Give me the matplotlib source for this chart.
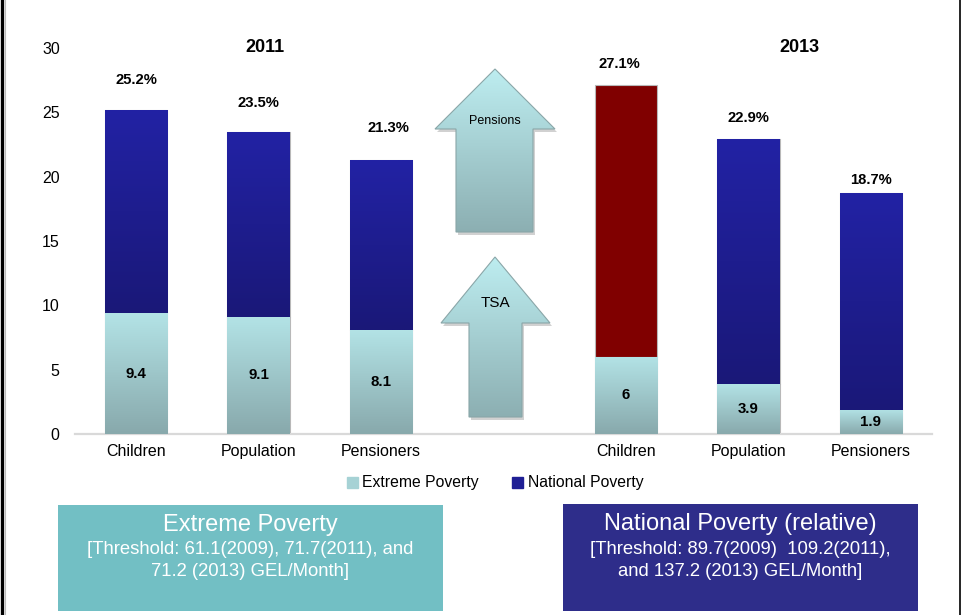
import numpy as np
import matplotlib
matplotlib.use("Agg")
import matplotlib.pyplot as plt
from matplotlib.colors import LinearSegmentedColormap
from matplotlib.patches import Polygon, Rectangle, Patch

plt.rcParams["font.family"] = ["Liberation Sans", "DejaVu Sans"]

# poverty rates (%) by group, 2011 and 2013
groups = ["Children", "Population", "Pensioners", "Children", "Population", "Pensioners"]
years = ["2011", "2013"]
extreme = [9.4, 9.1, 8.1, 6.0, 3.9, 1.9]
national = [25.2, 23.5, 21.3, 27.1, 22.9, 18.7]
positions = [0, 1, 2, 4, 5, 6]

# label offsets above each bar, in pixels (dx, dy)
pct_offsets = [(0, 30), (0, 29), (7, 32), (-7, 21), (0, 21), (0, 13)]

fig = plt.figure(figsize=(9.62, 6.15), dpi=100)

# background layer in pixel coordinates for arrows, boxes and frame
deco = fig.add_axes([0, 0, 1, 1], zorder=0)
deco.set_xlim(0, 962)
deco.set_ylim(615, 0)
deco.axis("off")

ax = fig.add_axes([75 / 962, 181 / 615, 857 / 962, 386 / 615], zorder=1)
ax.patch.set_visible(False)


def gradient(axis, patch, top, bottom, extent, z):
    cmap = LinearSegmentedColormap.from_list("g", [top, bottom])
    img = np.linspace(0, 1, 128).reshape(-1, 1)
    im = axis.imshow(img, cmap=cmap, extent=extent, aspect="auto",
                     origin="upper", zorder=z, interpolation="bilinear")
    im.set_clip_path(patch)


top_part = [n - e for n, e in zip(national, extreme)]
low_bars = ax.bar(positions, extreme, width=0.51, color="#a6d2d5",
                  edgecolor="#b8b8b8", linewidth=0.8, zorder=2)
high_colors = ["#1f1f95"] * 3 + ["#800000"] + ["#1f1f95"] * 2
high_bars = ax.bar(positions, top_part, bottom=extreme, width=0.51,
                   color=high_colors, edgecolor="#b8b8b8", linewidth=0.8, zorder=2)

for b in low_bars:
    x, y, w, h = b.get_x(), b.get_y(), b.get_width(), b.get_height()
    gradient(ax, b, "#b3e3e6", "#88a9ac", (x, x + w, y, y + h), 3)
for b, c in zip(high_bars, high_colors):
    if c != "#800000":
        x, y, w, h = b.get_x(), b.get_y(), b.get_width(), b.get_height()
        gradient(ax, b, "#2222a4", "#1a1878", (x, x + w, y, y + h), 3)

for p, e, n, (dx, dy) in zip(positions, extreme, national, pct_offsets):
    ax.annotate(f"{n}%", (p, n), xytext=(dx * 0.72, dy * 0.72),
                textcoords="offset points", ha="center", va="center",
                fontsize=10.6, fontweight="bold", zorder=5)
    ax.text(p, e / 2, f"{e:g}", ha="center", va="center",
            fontsize=10.8, fontweight="bold", zorder=5)

ax.text(1.05, 30, years[0], ha="center", va="center", fontsize=13, fontweight="bold")
ax.text(5.42, 30, years[1], ha="center", va="center", fontsize=13, fontweight="bold")

ax.set_xlim(-0.5, 6.5)
ax.set_ylim(0, 30)
ax.set_yticks(range(0, 31, 5))
ax.set_xticks(positions)
ax.set_xticklabels(groups)
ax.tick_params(axis="both", length=0, labelsize=11.5)
ax.tick_params(axis="y", pad=11)
ax.tick_params(axis="x", pad=7)
for s in ["left", "right", "top"]:
    ax.spines[s].set_visible(False)
ax.spines["bottom"].set_color("#d9d9d9")
ax.spines["bottom"].set_linewidth(1.6)

fig.legend(handles=[Patch(color="#a6d2d5", label="Extreme Poverty"),
                    Patch(color="#1f1f95", label="National Poverty")],
           loc="center", bbox_to_anchor=(495 / 962, 1 - 483 / 615), ncol=2,
           frameon=False, fontsize=11.3, handlelength=0.7, handleheight=0.7,
           handletextpad=0.3, columnspacing=2.1)

# policy arrows
arrows = {
    "Pensions": ([(495, 69), (555, 129), (533, 129), (533, 232), (456, 232), (456, 129), (435, 129)], 121, 9),
    "TSA": ([(495, 257), (550, 323), (522, 323), (522, 417), (469, 417), (469, 323), (441, 323)], 303, 11),
}
for name, (pts, ty, fs) in arrows.items():
    shadow = Polygon([(x + 2, y + 3) for x, y in pts], closed=True,
                     facecolor="#000000", alpha=0.18, edgecolor="none", zorder=1)
    deco.add_patch(shadow)
    poly = Polygon(pts, closed=True, facecolor="none", edgecolor="#8aa6a8",
                   linewidth=0.8, zorder=3)
    deco.add_patch(poly)
    ys = [y for _, y in pts]
    xs = [x for x, _ in pts]
    gradient(deco, poly, "#bdedf0", "#8cafb2", (min(xs), max(xs), max(ys), min(ys)), 2)
    deco.text(495, ty, name, ha="center", va="center", fontsize=fs, zorder=4)

# threshold boxes
deco.add_patch(Rectangle((58, 505), 385, 106, facecolor="#72bfc4", edgecolor="none"))
deco.add_patch(Rectangle((563, 504), 355, 107, facecolor="#2e2d8a", edgecolor="none"))
box_text = [
    (250, 525, "Extreme Poverty", 17),
    (250, 550, "[Threshold: 61.1(2009), 71.7(2011), and", 13.3),
    (250, 572, "71.2 (2013) GEL/Month]", 13.3),
    (740, 524, "National Poverty (relative)", 17),
    (740, 549, "[Threshold: 89.7(2009)  109.2(2011),", 13.3),
    (740, 571, "and 137.2 (2013) GEL/Month]", 13.3),
]
for x, y, s, fs in box_text:
    deco.text(x, y, s, ha="center", va="center", color="white", fontsize=fs)

# frame edges
deco.plot([2.5, 2.5], [0, 615], color="black", linewidth=2.4)
deco.plot([5, 5], [0, 615], color="#bbbbbb", linewidth=0.8)
deco.plot([960.5, 960.5], [0, 615], color="black", linewidth=1.2)
deco.set_xlim(0, 962)
deco.set_ylim(615, 0)

fig.savefig("out.png", dpi=100)
